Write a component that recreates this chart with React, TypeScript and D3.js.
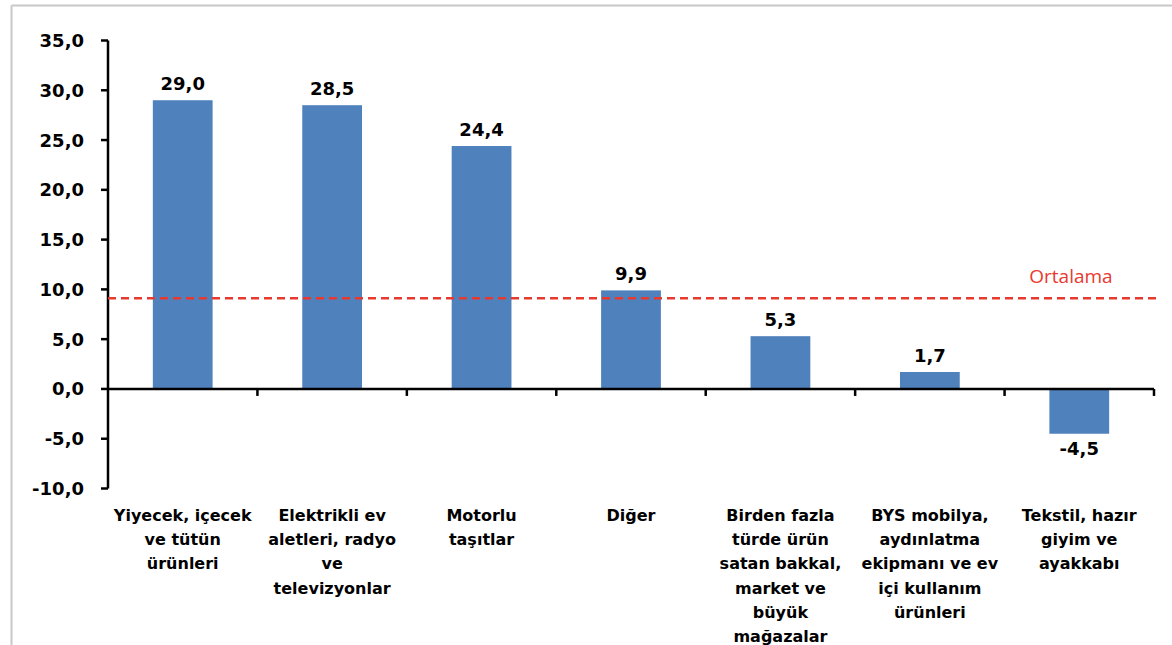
import React from "react";
import * as d3 from "d3";

const categories: string[][] = [
  ["Yiyecek, içecek", "ve tütün", "ürünleri"],
  ["Elektrikli ev", "aletleri, radyo", "ve", "televizyonlar"],
  ["Motorlu", "taşıtlar"],
  ["Diğer"],
  ["Birden fazla", "türde ürün", "satan bakkal,", "market ve", "büyük", "mağazalar"],
  ["BYS mobilya,", "aydınlatma", "ekipmanı ve ev", "içi kullanım", "ürünleri"],
  ["Tekstil, hazır", "giyim ve", "ayakkabı"],
];
const values: number[] = [29.0, 28.5, 24.4, 9.9, 5.3, 1.7, -4.5];
const average = 9.1;
const yTicks: number[] = [-10, -5, 0, 5, 10, 15, 20, 25, 30, 35];
const averageLabel = "Ortalama";

const fmt = (v: number) => v.toFixed(1).replace(".", ",");

export default function App() {
  const W = 1172, H = 645;
  const x0 = 108, x1 = 1154;
  const y = d3.scaleLinear().domain([-10, 35]).range([488.5, 40.5]);
  const x = d3
    .scaleBand<number>()
    .domain(values.map((_, i) => i))
    .range([x0, x1])
    .paddingInner(0.6)
    .paddingOuter(0.3);
  const step = (x1 - x0) / values.length;
  const font = "'DejaVu Sans', sans-serif";
  const blue = "#4f81bd";
  return (
    <div style={{ position: "absolute", left: 0, top: 0 }}>
      <svg width={W} height={H} style={{ display: "block" }}>
        <rect width={W} height={H} fill="#fff" />
        {/* frame */}
        <line x1={11.5} x2={11.5} y1={5.5} y2={H} stroke="#c8c8c8" strokeWidth={2} />
        <line x1={11.5} x2={W} y1={5.5} y2={5.5} stroke="#c8c8c8" strokeWidth={2} />
        {/* bars */}
        {values.map((v, i) => (
          <rect
            key={i}
            x={x(i)!}
            width={x.bandwidth()}
            y={y(Math.max(0, v))}
            height={Math.abs(y(v) - y(0))}
            fill={blue}
          />
        ))}
        {/* y axis */}
        <line x1={x0} x2={x0} y1={y(35)} y2={y(-10)} stroke="#000" strokeWidth={2.5} />
        {yTicks.map((t) => (
          <g key={t}>
            <line x1={x0 - 7} x2={x0} y1={y(t)} y2={y(t)} stroke="#000" strokeWidth={2.5} />
            <text
              x={84}
              y={y(t)}
              dy="0.36em"
              textAnchor="end"
              fontFamily={font}
              fontWeight={700}
              fontSize={18}
              fill="#000"
            >
              {fmt(t)}
            </text>
          </g>
        ))}
        {/* x axis at zero */}
        <line x1={x0} x2={x1} y1={y(0)} y2={y(0)} stroke="#000" strokeWidth={2.5} />
        {d3.range(1, values.length + 1).map((k) => (
          <line
            key={k}
            x1={x0 + k * step}
            x2={x0 + k * step}
            y1={y(0)}
            y2={y(0) + 7}
            stroke="#000"
            strokeWidth={2.5}
          />
        ))}
        {/* value labels */}
        {values.map((v, i) => (
          <text
            key={i}
            x={x(i)! + x.bandwidth() / 2}
            y={v >= 0 ? y(v) - 10 : y(v) + 21}
            textAnchor="middle"
            fontFamily={font}
            fontWeight={700}
            fontSize={18}
            fill="#000"
          >
            {fmt(v)}
          </text>
        ))}
        {/* category labels */}
        {categories.map((lines, i) => (
          <text
            key={i}
            textAnchor="middle"
            fontFamily={font}
            fontWeight={700}
            fontSize={16}
            fill="#000"
          >
            {lines.map((l, j) => (
              <tspan key={j} x={x(i)! + x.bandwidth() / 2} y={521 + j * 24.2}>
                {l}
              </tspan>
            ))}
          </text>
        ))}
        {/* average line */}
        <line
          x1={x0}
          x2={1156}
          y1={y(average)}
          y2={y(average)}
          stroke="#e8392e"
          strokeWidth={2.5}
          strokeDasharray="8,5"
        />
        <text
          x={1071}
          y={283}
          textAnchor="middle"
          fontFamily="'Open Sans', sans-serif"
          fontSize={19}
          fill="#e8392e"
        >
          {averageLabel}
        </text>
      </svg>
    </div>
  );
}
